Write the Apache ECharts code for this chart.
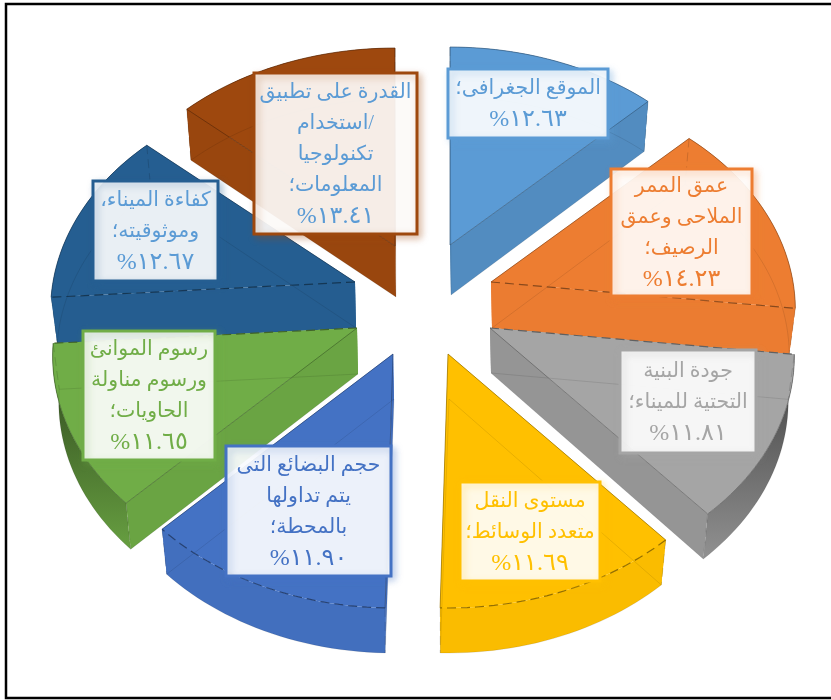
<!DOCTYPE html>
<html lang="ar">
<head>
<meta charset="utf-8">
<title>عوامل اختيار الميناء</title>
<style>
  html, body { margin: 0; padding: 0; background: #fff; }
  #chart { width: 831px; height: 700px; }
</style>
<script src="https://cdn.jsdelivr.net/npm/echarts@6/dist/echarts.min.js"></script>
</head>
<body>
<div id="chart" dir="rtl"></div>
<script>
// Factors, clockwise from twelve o'clock, and their shares in percent.
const categories = [
  'الموقع الجغرافى؛',
  'عمق الممر\nالملاحى وعمق\nالرصيف؛',
  'جودة البنية\nالتحتية للميناء؛',
  'مستوى النقل\nمتعدد الوسائط؛',
  'حجم البضائع التى\nيتم تداولها\nبالمحطة؛',
  'رسوم الموانئ\nورسوم مناولة\nالحاويات؛',
  'كفاءة الميناء،\nوموثوقيته؛',
  'القدرة على تطبيق\n/استخدام\nتكنولوجيا\nالمعلومات؛'
];
const shares = [12.63, 14.23, 11.81, 11.69, 11.90, 11.65, 12.67, 13.41];

// Slice and callout colours.
const sliceColors = ['#5B9BD5', '#ED7D31', '#A5A5A5', '#FFC000', '#4472C4', '#70AD47', '#255E91', '#9E480E'];
const textColors = ['#5B9BD5', '#ED7D31', '#A5A5A5', '#FFC000', '#4472C4', '#70AD47', '#5B9BD5', '#5B9BD5'];

// Exploded position of each slice's tip on its upper face.
const sliceTips = [[450, 245], [491, 282], [490, 328], [448, 354], [393, 354], [357, 328], [355, 282], [395, 246]];
// Height of each extruded slice.
const sliceDepths = [50, 46, 45, 45, 45, 46, 46, 51];
// Back-to-front painting rank of each slice.
const paintRanks = [1, 3, 5, 7, 6, 4, 2, 0];
// Darkening of the rim at its top and bottom, per slice.
const rimShades = [[0.1, 0.1], [0.02, 0.02], [0.62, 0.12], [0.02, 0.02], [0.03, 0.03], [0.62, 0.08], [0, 0], [0.03, 0.03]];
// Darkening of the flat cut walls, per slice.
const cutShades = [0.1, 0.01, 0.1, 0.03, 0.04, 0.05, 0.01, 0.03];
// Callout boxes: left, top, width, height.
const calloutBoxes = [
  [448, 69, 160, 69], [611, 169, 141, 127], [620, 350, 136, 103], [460, 482, 140, 99],
  [226, 446, 165, 130], [83, 331, 132, 129], [93, 181, 125, 100], [254, 73, 163, 161]
];

// Perspective of the disc: half-axes and foreshortening towards the viewer.
const DISC_RX = 302, DISC_RY = 222.5, DISC_K = 0.124;
const FONT_FAMILY = '"Liberation Serif", "DejaVu Serif", "DejaVu Sans", serif';

const TOTAL = shares.reduce((a, b) => a + b, 0);

function toArabicDigits(value) {
  return value.toFixed(2).replace(/\d/g, d => '٠١٢٣٤٥٦٧٨٩'[+d]);
}

function darken(hex, amount) {
  const n = parseInt(hex.slice(1), 16);
  const ch = [n >> 16 & 255, n >> 8 & 255, n & 255].map(c => Math.round(c * (1 - amount)));
  return 'rgb(' + ch.join(',') + ')';
}

function hexAlpha(hex, alpha) {
  const n = parseInt(hex.slice(1), 16);
  return 'rgba(' + [n >> 16 & 255, n >> 8 & 255, n & 255].join(',') + ',' + alpha + ')';
}

// Project a disc angle (radians, clockwise from the top) around a slice tip.
function rimPoint(tip, angle, drop) {
  const w = 1 + DISC_K * Math.cos(angle);
  const shrink = drop ? 0.98 : 1;
  return [
    tip[0] + shrink * DISC_RX * Math.sin(angle) / w,
    tip[1] - DISC_RY * Math.cos(angle) / w + drop
  ];
}

function rimArc(tip, a0, a1, drop) {
  const pts = [];
  const steps = 28;
  for (let s = 0; s <= steps; s++) {
    pts.push(rimPoint(tip, a0 + (a1 - a0) * s / steps, drop));
  }
  return pts;
}

function polygon(points, style, z2) {
  return { type: 'polygon', shape: { points }, style, z2, silent: true };
}

function polyline(points, stroke, width, dashed, z2) {
  return {
    type: 'polyline',
    shape: { points },
    style: { stroke, lineWidth: width, fill: null, lineDash: dashed ? [9, 5] : null },
    z2,
    silent: true
  };
}

function renderSlice(params, api) {
  const i = params.dataIndex;
  const share = api.value(0);
  const before = shares.slice(0, i).reduce((a, b) => a + b, 0);
  const a0 = before / TOTAL * 2 * Math.PI;
  const a1 = a0 + share / TOTAL * 2 * Math.PI;
  const tip = sliceTips[i];
  const d = sliceDepths[i];
  const color = sliceColors[i];
  const base = paintRanks[i] * 10;

  const tipLow = [tip[0] + 1, tip[1] + d];
  const upper = rimArc(tip, a0, a1, 0);
  const lower = rimArc(tip, a0, a1, d);
  const lowerRev = lower.slice().reverse();
  const upperEnd = upper[upper.length - 1];
  const lowerEnd = lower[lower.length - 1];

  const rimGrad = {
    type: 'linear', x: 0, y: 0, x2: 0, y2: 1,
    colorStops: [
      { offset: 0, color: darken(color, rimShades[i][0]) },
      { offset: 1, color: darken(color, rimShades[i][1]) }
    ]
  };
  const cutFill = { fill: darken(color, cutShades[i]) };
  const children = [
    polygon([tip, upper[0], lower[0], tipLow], cutFill, base),
    polygon([tip, upperEnd, lowerEnd, tipLow], cutFill, base),
    polygon(upper.concat(lowerRev), { fill: rimGrad }, base + 1),
    polygon([tip].concat(upper), { fill: color }, base + 2)
  ];

  // Wireframe edges of the solid, faintly visible through the surfaces.
  const edge = darken(color, 0.42);
  const mid = (a0 + a1) / 2;
  children.push(polyline([tipLow].concat(lower, [tipLow]), hexAlpha('#000000', 0.12), 0.8, false, base + 3));
  children.push(polyline([upper[0], lower[0]], hexAlpha('#000000', 0.14), 1, true, base + 3));
  children.push(polyline([upperEnd, lowerEnd], hexAlpha('#000000', 0.14), 1, true, base + 3));
  [[a0, upper[0]], [a1, upperEnd]].forEach(([a, p]) => {
    const flat = Math.abs(Math.cos(a)) < 0.2;
    children.push(polyline([tip, p], edge, flat ? 1.2 : 0.7, flat, base + 3));
  });
  const frontArc = Math.abs(mid - Math.PI) < Math.PI / 4;
  children.push(polyline(upper, edge, frontArc ? 1.2 : 0.7, frontArc, base + 3));

  // Callout with the factor name and its share.
  const b = calloutBoxes[i];
  const nameLines = categories[i].split('\n').map(line => '{n|' + line + '}');
  children.push({
    type: 'rect',
    shape: { x: b[0], y: b[1], width: b[2], height: b[3] },
    style: {
      fill: 'rgba(255,255,255,0.9)',
      stroke: color,
      lineWidth: 3,
      shadowBlur: 7,
      shadowOffsetX: 3,
      shadowOffsetY: 3,
      shadowColor: hexAlpha(color, 0.35)
    },
    z2: 200,
    silent: true
  });
  children.push({
    type: 'text',
    style: {
      x: b[0] + b[2] / 2,
      y: b[1] + b[3] / 2 + 1,
      text: nameLines.join('\n') + '\n{v|' + toArabicDigits(share) + '%}',
      fill: textColors[i],
      align: 'center',
      verticalAlign: 'middle',
      fontFamily: FONT_FAMILY,
      rich: {
        n: { fontFamily: FONT_FAMILY, fontSize: 20.5, lineHeight: 31, fill: textColors[i], align: 'center' },
        v: { fontFamily: FONT_FAMILY, fontSize: 24, lineHeight: 31, fill: textColors[i], align: 'center' }
      }
    },
    z2: 201,
    silent: true
  });
  return { type: 'group', children };
}

const chart = echarts.init(document.getElementById('chart'), null, { renderer: 'canvas' });
chart.setOption({
  animation: false,
  backgroundColor: '#ffffff',
  graphic: [{
    type: 'rect',
    silent: true,
    z: 100,
    shape: { x: 6, y: 4, width: 1000, height: 694 },
    style: { fill: null, stroke: '#000000', lineWidth: 2.5 }
  }],
  series: [{
    type: 'custom',
    coordinateSystem: 'none',
    renderItem: renderSlice,
    data: shares.map((v, i) => ({ name: categories[i], value: [v] }))
  }]
});
</script>
</body>
</html>
